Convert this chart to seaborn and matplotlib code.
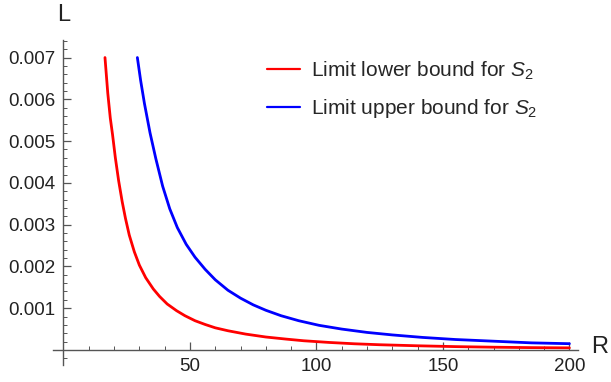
import pandas as pd
import matplotlib
matplotlib.use("Agg")
import matplotlib.pyplot as plt
from matplotlib.ticker import MultipleLocator, FixedLocator
import seaborn as sns

# values
r_lower = [16.4, 17.5, 18.5, 19.4, 20.5, 21.8, 23.2, 24.5, 26.0, 28.0, 30.0,
           32.5, 35.5, 38.0, 41.0, 44.7, 48.0, 52.0, 56.0, 60.0, 65.0, 72.0,
           80.0, 88.0, 95.0, 105.0, 115.0, 125.0, 140.0, 155.0, 170.0, 185.0, 200.0]
l_lower = [0.00700, 0.00615, 0.00555, 0.00515, 0.00460, 0.00405, 0.00355,
           0.00315, 0.00275, 0.00235, 0.00203, 0.00173, 0.00146, 0.00128,
           0.00110, 0.00094, 0.00082, 0.00070, 0.00061, 0.00053, 0.00046,
           0.00038, 0.00031, 0.00026, 0.00022, 0.00018, 0.000148, 0.000125,
           0.00010, 0.00008, 0.000066, 0.000056, 0.00005]

r_upper = [29.2, 30.5, 32.0, 34.2, 36.5, 39.2, 42.0, 45.0, 48.5, 52.0, 56.0,
           60.0, 65.0, 70.0, 75.0, 80.0, 86.0, 93.0, 101.0, 110.0, 120.0,
           130.0, 142.0, 155.0, 170.0, 185.0, 200.0]
l_upper = [0.00700, 0.00645, 0.00590, 0.00520, 0.00458, 0.00392, 0.00338,
           0.00293, 0.00253, 0.00222, 0.00193, 0.00168, 0.00143, 0.00124,
           0.00108, 0.00095, 0.00082, 0.00070, 0.00059, 0.00050, 0.00042,
           0.00036, 0.00030, 0.00025, 0.00021, 0.00017, 0.00015]

labels = ["Limit lower bound for $S_2$", "Limit upper bound for $S_2$"]
colors = ["#ff0000", "#0000ff"]
x_ticks = [50, 100, 150, 200]
y_ticks = [0.001, 0.002, 0.003, 0.004, 0.005, 0.006, 0.007]

df = pd.concat([
    pd.DataFrame({"R": r_lower, "L": l_lower, "curve": labels[0]}),
    pd.DataFrame({"R": r_upper, "L": l_upper, "curve": labels[1]}),
])

sns.set_style("white")
plt.rcParams["font.family"] = ["Liberation Sans", "DejaVu Sans"]
plt.rcParams["mathtext.fontset"] = "custom"
plt.rcParams["mathtext.rm"] = "Liberation Sans"
plt.rcParams["mathtext.it"] = "Liberation Sans:italic"

fig = plt.figure(figsize=(6.11, 3.82), dpi=100)
ax = fig.add_axes([53 / 611, 1 - 365 / 382, 525 / 611, 325 / 382])

sns.lineplot(data=df, x="R", y="L", hue="curve", palette=colors,
             linewidth=2.0, sort=False, estimator=None, ax=ax)

ax.set_xlim(-4.15, 203.4)
ax.set_ylim(-0.00036, 0.00742)

axis_col = "#555555"
for side in ["top", "right"]:
    ax.spines[side].set_visible(False)
ax.spines["left"].set_position(("data", 0))
ax.spines["bottom"].set_position(("data", 0))
for side in ["left", "bottom"]:
    ax.spines[side].set_color(axis_col)
    ax.spines[side].set_linewidth(1.0)

ax.xaxis.set_major_locator(FixedLocator(x_ticks))
ax.xaxis.set_minor_locator(MultipleLocator(10))
ax.yaxis.set_major_locator(FixedLocator(y_ticks))
ax.yaxis.set_minor_locator(MultipleLocator(0.0002))
ax.set_yticklabels([f"{v:.3f}" for v in y_ticks])
ax.set_xticklabels([str(v) for v in x_ticks])
ax.tick_params(which="both", bottom=True, left=True)
ax.tick_params(which="major", direction="in", length=5.5, width=0.9, color=axis_col,
               labelsize=13.5, labelcolor="#222222", pad=6)
ax.tick_params(which="minor", direction="in", length=3.2, width=0.7, color=axis_col)

ax.set_xlabel("")
ax.set_ylabel("")
fig.text(64 / 611, 1 - 15 / 382, "L", ha="center", va="center", fontsize=17, color="#222222")
fig.text(591 / 611, 1 - 347 / 382, "R", ha="left", va="center", fontsize=17, color="#222222")

handles, labs = ax.get_legend_handles_labels()
for h in handles:
    h.set_linewidth(1.6)
ax.legend(handles, labs, loc="center left", bbox_to_anchor=(257 / 611, 1 - 90 / 382),
          bbox_transform=fig.transFigure, frameon=False, fontsize=15,
          handlelength=1.55, handletextpad=0.55, labelspacing=0.75, borderpad=0)

fig.savefig("out.png", dpi=100)
